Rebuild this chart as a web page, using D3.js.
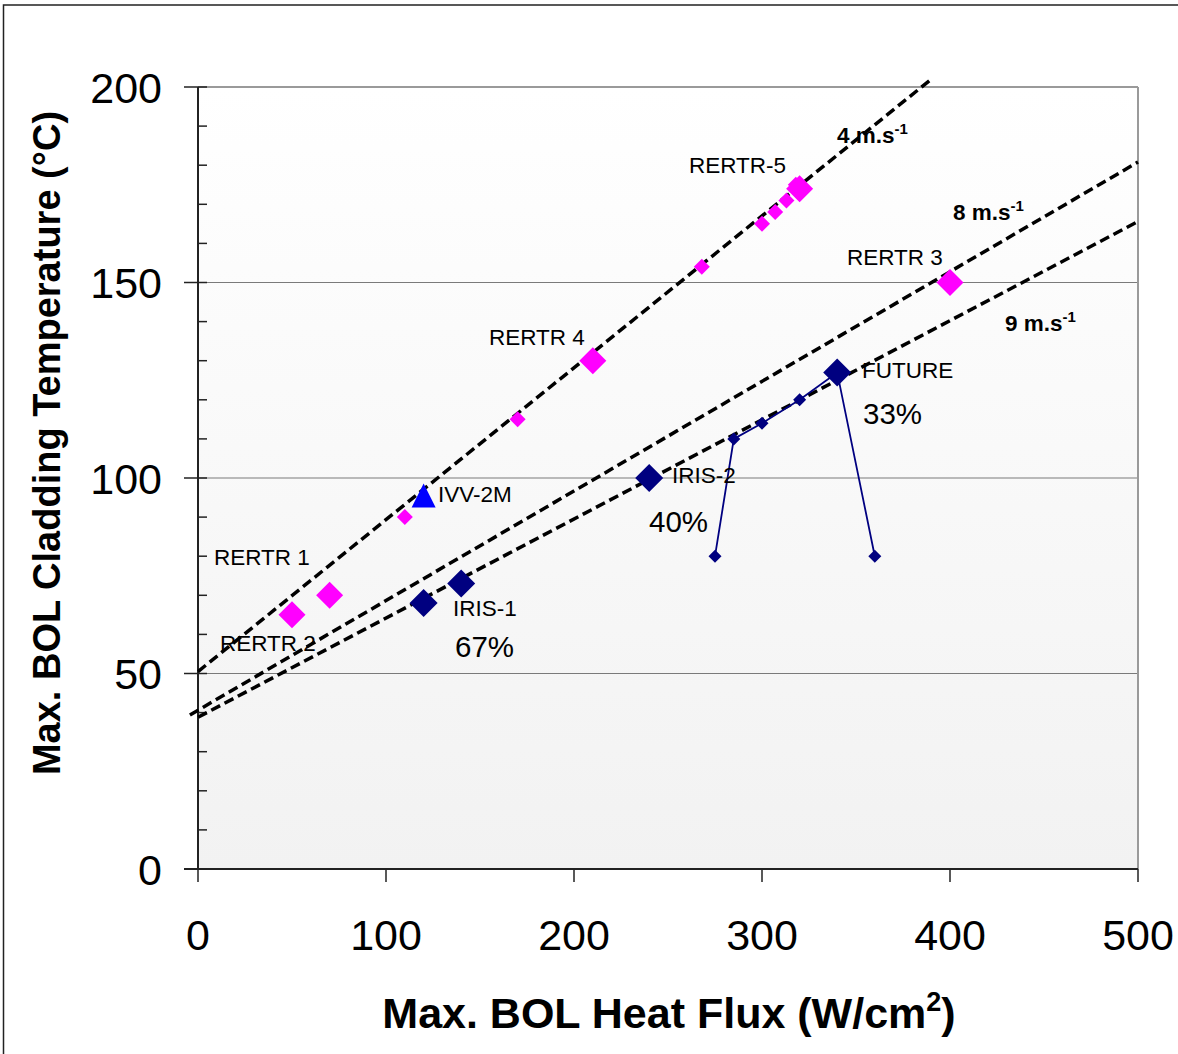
<!DOCTYPE html>
<html>
<head>
<meta charset="utf-8">
<script src="https://cdn.jsdelivr.net/npm/d3@7"></script>
<style>
  html, body { margin: 0; padding: 0; background: #fff; }
  svg { display: block; font-family: "Liberation Sans", Arial, sans-serif; }
</style>
</head>
<body>
<svg id="chart" width="1178" height="1054"></svg>
<script>
// Reference correlations (dashed lines), one per coolant velocity
const velocityLabels = ["4 m.s", "8 m.s", "9 m.s"];
const line4X = [0, 389];
const line4Y = [50.5, 201.6];
const line8X = [-4.3, 500];
const line8Y = [39.4, 180.8];
const line9X = [0, 500];
const line9Y = [38.8, 165.6];

// RERTR tests (magenta), large labelled markers
const rertrX = [50, 70, 210, 320, 400];
const rertrY = [65, 70, 130, 174, 150];
const rertrNames = ["RERTR 2", "RERTR 1", "RERTR 4", "RERTR-5", "RERTR 3"];

// Additional RERTR plates (small magenta markers)
const rertrSmallX = [110, 170, 268, 300, 307, 313, 318];
const rertrSmallY = [90, 115, 154, 165, 168, 171, 175];

// IVV-2M
const ivvX = [120];
const ivvY = [95];

// IRIS and FUTURE (navy, large markers)
const irisX = [120, 140, 240, 340];
const irisY = [68, 73, 100, 127];

// FUTURE envelope (navy, small markers joined by a line)
const futureX = [275, 285, 300, 320, 340, 360];
const futureY = [80, 110, 114, 120, 127, 80];

// Axis ticks
const xTicks = [0, 100, 200, 300, 400, 500];
const yTicks = [0, 50, 100, 150, 200];
const yMinorTicks = d3.range(0, 201, 10);

(function draw() {
  const svg = d3.select("#chart");
  const W = 1178, H = 1054;
  const pl = 198, pr = 1138, pt = 87, pb = 869;

  const x = d3.scaleLinear().domain([0, 500]).range([pl, pr]);
  const y = d3.scaleLinear().domain([0, 200]).range([pb, pt]);

  // outer frame
  svg.append("rect").attr("x", 3.5).attr("y", 5).attr("width", W + 10).attr("height", H + 10)
    .attr("fill", "none").attr("stroke", "#222").attr("stroke-width", 1.5);

  // plot background gradient
  const defs = svg.append("defs");
  const grad = defs.append("linearGradient").attr("id", "bg").attr("x1", 0).attr("y1", 0).attr("x2", 0).attr("y2", 1);
  grad.append("stop").attr("offset", "0%").attr("stop-color", "#ffffff");
  grad.append("stop").attr("offset", "100%").attr("stop-color", "#f2f2f2");
  svg.append("rect").attr("x", pl).attr("y", pt).attr("width", pr - pl).attr("height", pb - pt)
    .attr("fill", "url(#bg)");

  // gridlines
  svg.append("g").selectAll("line").data(yTicks.filter(d => d > 0 && d < 200)).join("line")
    .attr("x1", pl).attr("x2", pr).attr("y1", d => y(d)).attr("y2", d => y(d))
    .attr("stroke", "#7a7a7a").attr("stroke-width", 1.2);

  // top and right frame
  svg.append("line").attr("x1", pl).attr("x2", pr).attr("y1", pt).attr("y2", pt)
    .attr("stroke", "#9a9a9a").attr("stroke-width", 2);
  svg.append("line").attr("x1", pr).attr("x2", pr).attr("y1", pt).attr("y2", pb)
    .attr("stroke", "#9a9a9a").attr("stroke-width", 2);

  // axes
  const axisColor = "#222";
  svg.append("line").attr("x1", pl).attr("x2", pl).attr("y1", pt).attr("y2", pb)
    .attr("stroke", axisColor).attr("stroke-width", 2);
  svg.append("line").attr("x1", pl - 14).attr("x2", pr).attr("y1", pb).attr("y2", pb)
    .attr("stroke", axisColor).attr("stroke-width", 2);

  // y ticks: minor inside, major crossing
  svg.append("g").selectAll("line").data(yMinorTicks).join("line")
    .attr("x1", pl).attr("x2", pl + 9).attr("y1", d => y(d)).attr("y2", d => y(d))
    .attr("stroke", axisColor).attr("stroke-width", 1.5);
  svg.append("g").selectAll("line").data(yTicks).join("line")
    .attr("x1", pl - 14).attr("x2", pl).attr("y1", d => y(d)).attr("y2", d => y(d))
    .attr("stroke", axisColor).attr("stroke-width", 1.5);
  // x ticks
  svg.append("g").selectAll("line").data(xTicks).join("line")
    .attr("x1", d => x(d)).attr("x2", d => x(d)).attr("y1", pb).attr("y2", pb + 13)
    .attr("stroke", axisColor).attr("stroke-width", 1.5);

  // tick labels
  svg.append("g").selectAll("text").data(yTicks).join("text")
    .attr("x", 162).attr("y", d => y(d) + 15.5).attr("text-anchor", "end")
    .attr("font-size", 43).attr("fill", "#000").text(d => d);
  svg.append("g").selectAll("text").data(xTicks).join("text")
    .attr("x", d => x(d)).attr("y", 950).attr("text-anchor", "middle")
    .attr("font-size", 43).attr("fill", "#000").text(d => d);

  // axis titles
  const xt = svg.append("text").attr("x", 669).attr("y", 1028).attr("text-anchor", "middle")
    .attr("font-size", 43).attr("font-weight", "bold");
  xt.append("tspan").text("Max. BOL Heat Flux (W/cm");
  xt.append("tspan").attr("font-size", 27).attr("dy", -17).text("2");
  xt.append("tspan").attr("dy", 17).text(")");

  svg.append("text").attr("transform", "translate(60,443) rotate(-90)").attr("text-anchor", "middle")
    .attr("font-size", 38).attr("font-weight", "bold").text("Max. BOL Cladding Temperature (°C)");

  // dashed correlation lines
  const lineGen = d3.line().x(d => x(d[0])).y(d => y(d[1]));
  const corr = [
    d3.zip(line4X, line4Y),
    d3.zip(line8X, line8Y),
    d3.zip(line9X, line9Y)
  ];
  svg.append("g").selectAll("path").data(corr).join("path")
    .attr("d", lineGen).attr("fill", "none").attr("stroke", "#000")
    .attr("stroke-width", 3.5).attr("stroke-dasharray", "10,5");

  // FUTURE envelope line
  svg.append("path").datum(d3.zip(futureX, futureY)).attr("d", lineGen)
    .attr("fill", "none").attr("stroke", "#000080").attr("stroke-width", 1.8);

  // markers
  function diamond(cx, cy, h) {
    return `M${cx},${cy - h}L${cx + h},${cy}L${cx},${cy + h}L${cx - h},${cy}Z`;
  }
  const magenta = "#ff00ff", navy = "#000080";

  svg.append("g").selectAll("path").data(d3.zip(rertrSmallX, rertrSmallY)).join("path")
    .attr("d", d => diamond(x(d[0]), y(d[1]), 8)).attr("fill", magenta);
  svg.append("g").selectAll("path").data(d3.zip(rertrX, rertrY)).join("path")
    .attr("d", d => diamond(x(d[0]), y(d[1]), 13.5)).attr("fill", magenta);
  svg.append("g").selectAll("path").data(d3.zip(futureX, futureY)).join("path")
    .attr("d", d => diamond(x(d[0]), y(d[1]), 6.5)).attr("fill", navy);
  svg.append("g").selectAll("path").data(d3.zip(irisX, irisY)).join("path")
    .attr("d", d => diamond(x(d[0]), y(d[1]), 14)).attr("fill", navy);
  svg.append("g").selectAll("path").data(d3.zip(ivvX, ivvY)).join("path")
    .attr("d", d => {
      const cx = x(d[0]), cy = y(d[1]);
      return `M${cx},${cy - 14}L${cx + 12},${cy + 10}L${cx - 12},${cy + 10}Z`;
    }).attr("fill", "#0000ff");

  // point labels
  const labels = [
    { t: "RERTR 1", x: 214, y: 565 },
    { t: "RERTR 2", x: 220, y: 651 },
    { t: "RERTR 4", x: 489, y: 345 },
    { t: "RERTR-5", x: 689, y: 173 },
    { t: "RERTR 3", x: 847, y: 265 },
    { t: "IVV-2M", x: 438, y: 502 },
    { t: "IRIS-1", x: 453, y: 616 },
    { t: "IRIS-2", x: 672, y: 483 },
    { t: "FUTURE", x: 862, y: 378 }
  ];
  svg.append("g").selectAll("text").data(labels).join("text")
    .attr("x", d => d.x).attr("y", d => d.y).attr("font-size", 22.5).attr("fill", "#000").text(d => d.t);

  const pct = [
    { t: "67%", x: 455, y: 657 },
    { t: "40%", x: 649, y: 532 },
    { t: "33%", x: 863, y: 424 }
  ];
  svg.append("g").selectAll("text").data(pct).join("text")
    .attr("x", d => d.x).attr("y", d => d.y).attr("font-size", 29.5).attr("fill", "#000").text(d => d.t);

  // velocity labels
  const velPos = [{ x: 837, y: 143 }, { x: 953, y: 220 }, { x: 1005, y: 331 }];
  velPos.forEach((p, i) => {
    const t = svg.append("text").attr("x", p.x).attr("y", p.y)
      .attr("font-size", 22.5).attr("font-weight", "bold");
    t.append("tspan").text(velocityLabels[i]);
    t.append("tspan").attr("font-size", 15).attr("dy", -9).text("-1");
  });
})();
</script>
</body>
</html>
